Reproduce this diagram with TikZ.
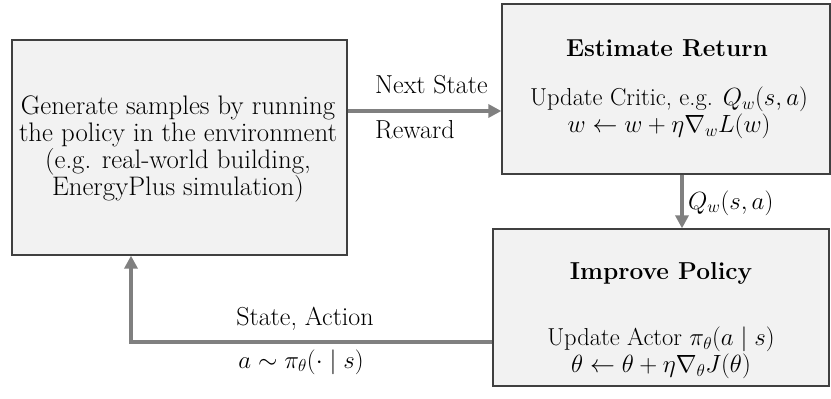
\documentclass[tikz,border=0pt]{standalone}
\usetikzlibrary{arrows.meta}
\begin{document}
\begin{tikzpicture}[x=1pt,y=-1pt,
  box/.style={draw=black!75,line width=1.3pt,fill=black!5,inner sep=0pt},
  txt/.style={font=\fontsize{26}{27}\selectfont,align=center,inner sep=0pt},
  btxt/.style={font=\fontsize{24.5}{27}\selectfont,align=center,inner sep=0pt},
  flow/.style={draw=black!50,line width=4pt,-{Triangle[length=13pt,width=13pt]}}]
\useasboundingbox (0,0) rectangle (831,399);
\node[box,minimum width=335pt,minimum height=215pt] (env) at (179.5,147.5) {};
\node[box,minimum width=328pt,minimum height=170pt] (crit) at (666,89) {};
\node[box,minimum width=336pt,minimum height=157pt] (act) at (661,307.5) {};
\node[txt,font=\fontsize{26.8}{27.3}\selectfont] (envt) at (178,149) {Generate samples by running\\the policy in the environment\\(e.g. real-world building,\\EnergyPlus simulation)};
\node[btxt] (critt) at (667,48) {\bfseries Estimate Return};
\node[btxt] (critb) at (669,113) {Update Critic, e.g. $Q_w(s,a)$\\$w \leftarrow w + \eta\nabla_w L(w)$};
\node[btxt] (actt) at (661,273) {\bfseries Improve Policy};
\node[btxt] (actb) at (661,353) {Update Actor $\pi_\theta(a\mid s)$\\$\theta \leftarrow \theta + \eta\nabla_\theta J(\theta)$};
\draw[flow] (env.east |- 0,111) -- (crit.west |- 0,111);
\draw[flow] (crit.south -| 682,0) -- (act.north -| 682,0);
\coordinate (corner) at (131,342);
\draw[flow] (act.west |- corner) -- (corner) -- (env.south -| corner);
\node[txt,anchor=west] (ns) at (375,85) {Next State};
\node[txt,anchor=west] (rw) at (375,130) {Reward};
\node[btxt,anchor=west] (qw) at (688,203) {$Q_w(s,a)$};
\node[txt] (sa) at (305,319) {State, Action};
\node[btxt] (ap) at (301,362) {$a\sim\pi_\theta(\cdot\mid s)$};
\end{tikzpicture}
\end{document}
